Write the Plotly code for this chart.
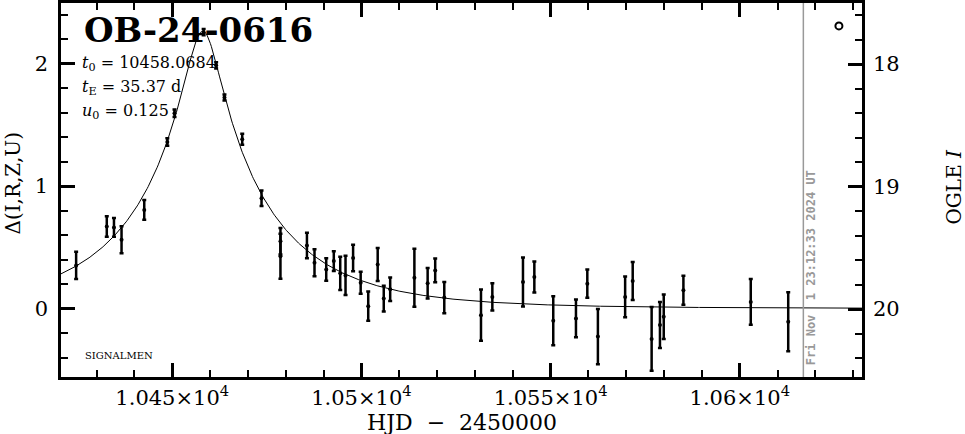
import numpy as np
import plotly.graph_objects as go

# ---------------- data ----------------
hjd = [10424.6, 10432.7, 10434.6, 10436.6, 10442.6, 10448.7, 10450.6, 10458.3,
       10461.6, 10463.8, 10468.5, 10473.6, 10478.6, 10478.6, 10485.6, 10487.6,
       10490.7, 10492.7, 10494.4, 10495.8, 10497.8, 10499.8, 10501.8, 10504.3,
       10505.9, 10507.6, 10514.0, 10517.5, 10519.5, 10521.9, 10531.6, 10534.6,
       10542.7, 10545.7, 10550.7, 10556.7, 10559.7, 10562.5, 10569.7, 10571.7,
       10576.7, 10578.9, 10579.9, 10585.1, 10602.9, 10612.8]
dmag = [0.352, 0.670, 0.662, 0.562, 0.805, 1.359, 1.594, 2.256,
        1.985, 1.723, 1.381, 0.900, 0.549, 0.427, 0.514, 0.373,
        0.319, 0.387, 0.287, 0.270, 0.413, 0.211, 0.019, 0.360,
        0.081, 0.157, 0.251, 0.206, 0.311, 0.089, -0.054, 0.095,
        0.216, 0.257, -0.100, -0.081, 0.203, -0.229, 0.095, 0.224,
        -0.248, -0.135, -0.067, 0.149, 0.054, -0.108]
derr = [0.112, 0.084, 0.077, 0.110, 0.080, 0.030, 0.030, 0.025,
        0.025, 0.025, 0.045, 0.063, 0.109, 0.183, 0.104, 0.110,
        0.092, 0.080, 0.135, 0.160, 0.108, 0.090, 0.119, 0.135,
        0.105, 0.096, 0.236, 0.124, 0.097, 0.128, 0.210, 0.112,
        0.200, 0.126, 0.200, 0.154, 0.115, 0.226, 0.166, 0.155,
        0.260, 0.188, 0.182, 0.118, 0.186, 0.240]

# model parameters (as printed on the chart)
T0 = 10458.0684
TE = 35.37
U0 = 0.125

event_name = "OB-24-0616"
timestamp = "Fri Nov\u00a0 1 23:12:33 2024 UT"
now_hjd = 10616.8
marker_hjd = [10626.2]
marker_dmag = [2.307]

x_tickvals = [10450, 10500, 10550, 10600]
x_ticktext = ["1.045\u00d710<sup>4</sup>", "1.05\u00d710<sup>4</sup>",
              "1.055\u00d710<sup>4</sup>", "1.06\u00d710<sup>4</sup>"]
y_tickvals = [0, 1, 2]
y2_tickvals = [18, 19, 20]
I_BASE = 19.995

XR = [10420.6, 10632.3]
YR = [-0.559, 2.494]

# ---------------- model curve ----------------
tm = np.linspace(XR[0], XR[1], 800)
u = np.sqrt(U0**2 + ((tm - T0) / TE) ** 2)
A = (u**2 + 2) / (u * np.sqrt(u**2 + 4))
model = 2.5 * np.log10(A)

FONT = "DejaVu Serif"
fig = go.Figure()
fig.add_trace(go.Scatter(x=tm, y=model, mode="lines",
                         line=dict(color="black", width=1), showlegend=False,
                         hoverinfo="skip"))
fig.add_trace(go.Scatter(x=hjd, y=dmag, mode="markers",
                         marker=dict(color="black", size=4),
                         error_y=dict(type="data", array=derr, visible=True,
                                      color="black", thickness=2.5, width=2),
                         showlegend=False))
fig.add_trace(go.Scatter(x=marker_hjd, y=marker_dmag, mode="markers",
                         marker=dict(symbol="circle-open", size=7, color="black",
                                     line=dict(width=2, color="black")),
                         showlegend=False))
fig.add_trace(go.Scatter(x=[None], y=[None], yaxis="y2", showlegend=False))

fig.add_shape(type="line", x0=now_hjd, x1=now_hjd, y0=0, y1=1,
              xref="x", yref="paper", line=dict(color="#999999", width=1.5))

axis_common = dict(showline=True, linecolor="black", linewidth=2.5,
                   ticks="inside", ticklen=14, tickwidth=2.5, tickcolor="black",
                   showgrid=False, zeroline=False,
                   tickfont=dict(family=FONT, size=21, color="black"))

fig.update_layout(
    width=965, height=434,
    margin=dict(l=61, r=103, t=0, b=57),
    paper_bgcolor="white", plot_bgcolor="white",
    font=dict(family=FONT, size=20, color="black"),
    xaxis=dict(range=XR, tickvals=x_tickvals, ticktext=x_ticktext,
               mirror="ticks",
               minor=dict(dtick=10, tick0=10450, ticks="inside", ticklen=7,
                          tickwidth=2, tickcolor="black"),
               **axis_common),
    yaxis=dict(range=YR, tickvals=y_tickvals, ticklabelstandoff=6,
               minor=dict(dtick=0.2, tick0=0, ticks="inside", ticklen=7,
                          tickwidth=2, tickcolor="black"),
               **axis_common),
    yaxis2=dict(range=[I_BASE - YR[0], I_BASE - YR[1]], overlaying="y",
                side="right", tickvals=y2_tickvals, ticklabelstandoff=4,
                minor=dict(dtick=0.2, tick0=18, ticks="inside", ticklen=7,
                           tickwidth=2, tickcolor="black"),
                **axis_common),
)

ann = []
ann.append(dict(text=event_name, x=0.026, y=0.928, xref="paper", yref="paper",
                xanchor="left", yanchor="middle", showarrow=False,
                font=dict(family=FONT, size=34, color="black", weight="bold")))
params = ["<i>t</i><sub>0</sub> = %.4f" % T0,
          "<i>t</i><sub>E</sub> = %.2f d" % TE,
          "<i>u</i><sub>0</sub> = %.3f" % U0]
for i, p in enumerate(params):
    ann.append(dict(text=p, x=0.024, y=(377 - 61 - 24 * i) / 377, xref="paper",
                    yref="paper", xanchor="left", yanchor="middle",
                    showarrow=False, font=dict(family=FONT, size=16, color="black")))
ann.append(dict(text="SIGNALMEN", x=0.027, y=(377 - 355) / 377, xref="paper",
                yref="paper", xanchor="left", yanchor="middle", showarrow=False,
                font=dict(family=FONT, size=10, color="black")))
ann.append(dict(text=timestamp, x=now_hjd, xref="x", y=(377 - 267) / 377,
                yref="paper", xanchor="left", yanchor="middle", xshift=-1,
                textangle=-90, showarrow=False,
                font=dict(family="DejaVu Sans Mono", size=12, color="#999999",
                          weight="bold")))
ann.append(dict(text="HJD\u00a0 \u2212\u00a0 2450000", x=0.5, y=0, xref="paper",
                yref="paper", xanchor="center", yanchor="middle", yshift=-45,
                showarrow=False, font=dict(family=FONT, size=22, color="black")))
ann.append(dict(text="\u0394(I,R,Z,U)", x=0, y=(377 - 182) / 377, xref="paper",
                yref="paper", xanchor="center", yanchor="middle", xshift=-48,
                textangle=-90, showarrow=False,
                font=dict(family=FONT, size=20, color="black")))
ann.append(dict(text="OGLE <i>I</i>", x=1, y=(377 - 185) / 377, xref="paper",
                yref="paper", xanchor="center", yanchor="middle", xshift=92,
                textangle=-90, showarrow=False,
                font=dict(family=FONT, size=20, color="black")))
fig.update_layout(annotations=ann)

fig.write_html("out.html", config={"displayModeBar": False},
               post_script="document.body.style.margin='0';")
